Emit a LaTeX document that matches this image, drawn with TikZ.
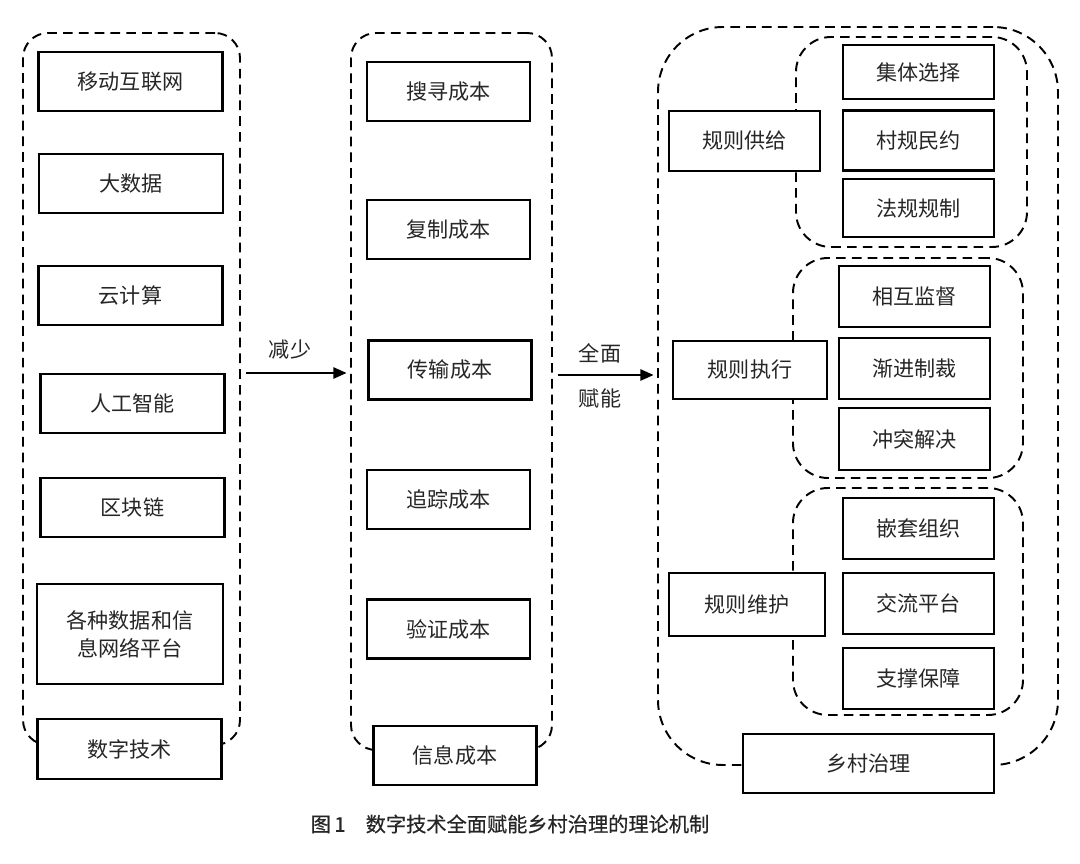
\documentclass[tikz,border=0pt]{standalone}
\usepackage{fontspec}
\newfontfamily\cjk{Noto Sans CJK SC}
\newfontfamily\cjkcap[FakeBold=0.6]{Noto Sans CJK SC}
\usetikzlibrary{arrows.meta}
\begin{document}
\begin{tikzpicture}[x=0.02cm,y=-0.02cm,
  txt/.style={font=\cjk\fontsize{12}{16}\selectfont, text=black!85},
  box/.style={txt, draw, line width=1.2pt, fill=white, inner sep=0pt, align=center},
  grp/.style={draw, line width=1.1pt, dash pattern=on 5.5pt off 3.5pt, rounded corners=#1, inner sep=0pt},
  grp/.default=0.5cm,
  arr/.style={line width=0.8pt, -{Triangle[length=7.5pt,width=6.5pt]}},
  lbl/.style={txt}
]
\useasboundingbox (0,0) rectangle (1080,864);

% dashed groups
\node[grp, minimum width=217*0.02cm, minimum height=712*0.02cm] (L) at (131.5,389) {};
\node[grp, minimum width=201*0.02cm, minimum height=717*0.02cm] (M) at (451.5,391.5) {};
\node[grp=1.3cm, minimum width=400*0.02cm, minimum height=738*0.02cm] (R) at (858,396) {};
\node[grp=0.7cm, minimum width=231*0.02cm, minimum height=210*0.02cm] (G1) at (911.5,142) {};
\node[grp=0.7cm, minimum width=230*0.02cm, minimum height=220*0.02cm] (G2) at (908,368) {};
\node[grp=0.7cm, minimum width=230*0.02cm, minimum height=227*0.02cm] (G3) at (908,601.5) {};

% left column
\tikzset{lb/.style={box, minimum width=184*0.02cm, minimum height=59*0.02cm}}
\node[lb] (l1) at (130.5,81.5) {移动互联网};
\node[lb] (l2) at (131,183.5) {大数据};
\node[lb] (l3) at (130.5,295.5) {云计算};
\node[lb] (l4) at (132.5,403.5) {人工智能};
\node[lb] (l5) at (132.5,507.5) {区块链};
\node[lb, minimum width=186*0.02cm, minimum height=100*0.02cm] (l6) at (130,634) {各种数据和信\\息网络平台};
\node[lb, minimum height=60*0.02cm] (l7) at (129.5,749) {数字技术};

% middle column
\tikzset{mb/.style={box, minimum width=163*0.02cm, minimum height=59*0.02cm}}
\node[mb] (m1) at (448.5,91.5) {搜寻成本};
\node[mb] (m2) at (448.5,229.5) {复制成本};
\node[mb] (m3) at (450,370) {传输成本};
\node[mb] (m4) at (448.5,499.5) {追踪成本};
\node[mb] (m5) at (448.5,629) {验证成本};
\node[mb] (m6) at (455,755.5) {信息成本};

% right column
\tikzset{rb/.style={box, minimum width=151*0.02cm, minimum height=60*0.02cm}}
\node[rb, minimum height=54*0.02cm] (r1) at (918.5,72) {集体选择};
\node[rb] (r2) at (918.5,140.5) {村规民约};
\node[rb, minimum height=58*0.02cm] (r3) at (918.5,208) {法规规制};
\node[rb] (s1) at (744.5,141) {规则供给};
\node[rb, minimum height=61*0.02cm] (r4) at (914.5,296.5) {相互监督};
\node[rb, minimum height=61*0.02cm] (r5) at (914.5,368.5) {渐进制裁};
\node[rb, minimum height=62*0.02cm] (r6) at (914.5,439) {冲突解决};
\node[rb, minimum width=154*0.02cm, minimum height=58*0.02cm] (s2) at (750,370) {规则执行};
\node[rb, minimum height=61*0.02cm] (r7) at (918.5,528.5) {嵌套组织};
\node[rb, minimum height=61*0.02cm] (r8) at (918.5,603.5) {交流平台};
\node[rb, minimum height=61*0.02cm] (r9) at (918.5,678.5) {支撑保障};
\node[rb, minimum width=156*0.02cm, minimum height=63*0.02cm] (s3) at (747,604.5) {规则维护};
\node[rb, minimum width=251*0.02cm, minimum height=59*0.02cm] (r10) at (868.5,763.5) {乡村治理};

% arrows
\coordinate (a1) at (0,373);
\coordinate (a2) at (0,375);
\draw[arr, shorten <=3pt, shorten >=2pt] (L.east |- a1) -- (M.west |- a1);
\draw[arr, shorten <=3pt, shorten >=2pt] (M.east |- a2) -- (R.west |- a2);
\node[lbl] (t1) at (290,350) {减少};
\node[lbl] (t2) at (600,353) {全面};
\node[lbl] (t3) at (600,398) {赋能};

% caption
\node[font=\cjkcap\fontsize{11.5}{14}\selectfont, text=black!85] (cap) at (510,824) {图\,1\quad 数字技术全面赋能乡村治理的理论机制};
\end{tikzpicture}
\end{document}
